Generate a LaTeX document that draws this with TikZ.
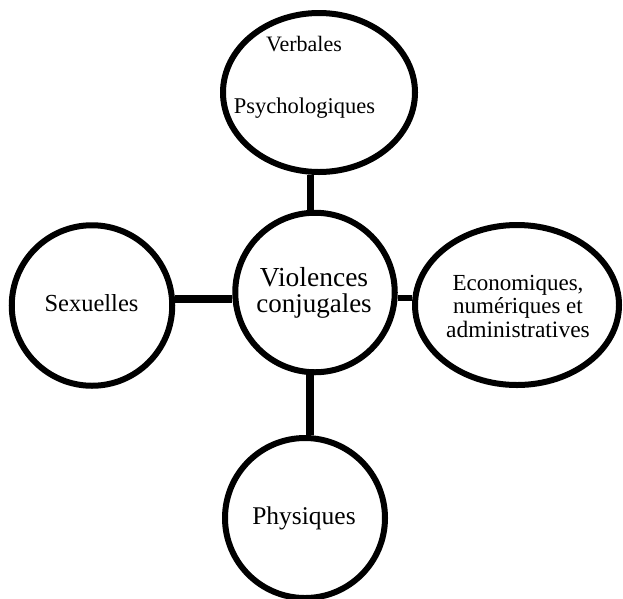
\documentclass[tikz,border=0pt]{standalone}
\usepackage{fontspec}
\setmainfont{Liberation Serif}
\usetikzlibrary{shapes.geometric}
\tikzset{
  bubble/.style={circle, draw=black, fill=white, line width=6pt, minimum size=160.5pt, inner sep=0pt},
  oval/.style={ellipse, draw=black, fill=white, line width=6pt, inner sep=0pt},
  link/.style={draw=black, line width=7pt},
  lbl/.style={anchor=base, inner sep=0pt, text=black}
}
\begin{document}
\begin{tikzpicture}[x=1pt,y=-1pt]
\useasboundingbox (0,0) rectangle (623,598);
\fill[white] (0,0) rectangle (623,598);
% shapes
\node[oval, minimum width=192pt, minimum height=159pt] (top) at (319,92.5) {};
\node[bubble, minimum size=159.5pt] (center) at (315,292.5) {};
\node[bubble, minimum size=160.5pt] (sex) at (92,305.5) {};
\node[oval, minimum width=204pt, minimum height=160pt] (eco) at (517,305) {};
\node[bubble, minimum size=160pt] (phys) at (305,518) {};
% connectors
\draw[link, line width=7pt] ([xshift=-9pt]top.south) -- ([xshift=-5pt]center.north);
\draw[link, line width=8pt] ([xshift=-5pt]center.south) -- ([xshift=5pt]phys.north);
\draw[link, line width=8pt] ([yshift=6.5pt]sex.east) -- ([yshift=-6.5pt]center.west);
\draw[link, line width=5.5pt] ([yshift=-5.5pt]center.east) -- ([yshift=7pt]eco.west);
% texts
\node[lbl, font=\fontsize{22}{24}\selectfont] (t1) at (304,51) {Verbales};
\node[lbl, font=\fontsize{22.5}{24}\selectfont] (t2) at (304.5,113) {Psychologiques};
\node[lbl, font=\fontsize{27.5}{28}\selectfont] (c1) at (314,286) {Violences};
\node[lbl, font=\fontsize{27}{28}\selectfont] (c2) at (314,312) {conjugales};
\node[lbl, font=\fontsize{24.5}{26}\selectfont] (s1) at (91.5,311) {Sexuelles};
\node[lbl, font=\fontsize{23}{25}\selectfont] (e1) at (518,290) {Economiques,};
\node[lbl, font=\fontsize{23}{25}\selectfont] (e2) at (518,313) {numériques et};
\node[lbl, font=\fontsize{23.5}{25}\selectfont] (e3) at (518,337) {administratives};
\node[lbl, font=\fontsize{25.5}{27}\selectfont] (p1) at (304,524) {Physiques};
\end{tikzpicture}
\end{document}
